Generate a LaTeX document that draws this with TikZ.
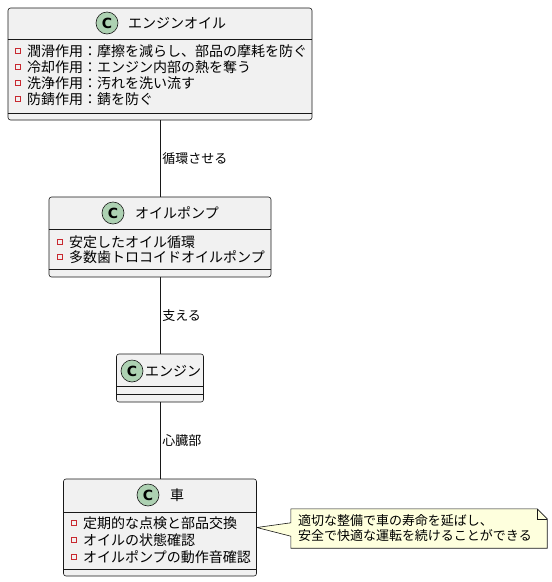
\documentclass[tikz,border=0pt]{standalone}
\usepackage{fontspec}
\setmainfont{Noto Sans CJK JP}
\setsansfont{DejaVu Sans}
\usetikzlibrary{backgrounds}
\definecolor{umlline}{HTML}{181818}
\definecolor{umlbg}{HTML}{F1F1F1}
\definecolor{spotbg}{HTML}{ADD1B2}
\definecolor{attrred}{HTML}{C82930}
\definecolor{notebg}{HTML}{FEFFDD}
\begin{document}
\begin{tikzpicture}[x=1pt, y=-1pt,
    cls/.style = {draw=umlline, fill=umlbg, rounded corners=2.5pt, line width=0.6pt, inner sep=0},
    spot/.style = {circle, draw=umlline, fill=spotbg, minimum size=22pt, inner sep=0, line width=0.6pt, font=\sffamily\bfseries\fontsize{14}{14}\selectfont},
    title/.style = {anchor=west, inner sep=0, font=\fontsize{14}{16}\selectfont},
    icon/.style = {draw=attrred, rectangle, minimum size=5pt, inner sep=0, line width=0.7pt, xshift=-6.5pt},
    attr/.style = {anchor=west, inner sep=0, font=\fontsize{14}{16}\selectfont, label={[icon]left:{}}},
    sep/.style = {draw=umlline, line width=0.6pt},
    link/.style = {draw=umlline, line width=0.7pt},
    lbl/.style = {right, inner sep=2pt, font=\fontsize{13}{15}\selectfont},
    memobox/.style = {fill=notebg, draw=umlline, line width=0.6pt}]
    \useasboundingbox (0,0) rectangle (552,582);

    % classes
    \node[cls, minimum width=304pt, minimum height=112pt] (oil) at (160,64) {};
    \node[cls, minimum width=222pt, minimum height=80pt] (pump) at (160,237) {};
    \node[cls, minimum width=87pt, minimum height=48pt] (engine) at (160,378) {};
    \node[cls, minimum width=193pt, minimum height=97pt] (car) at (160,527.5) {};

    % separators
    \draw[sep] (oil.west |- 0,39) -- (oil.east |- 0,39);
    \draw[sep] (oil.west |- 0,113) -- (oil.east |- 0,113);
    \draw[sep] (pump.west |- 0,229) -- (pump.east |- 0,229);
    \draw[sep] (pump.west |- 0,269) -- (pump.east |- 0,269);
    \draw[sep] (engine.west |- 0,386) -- (engine.east |- 0,386);
    \draw[sep] (engine.west |- 0,394) -- (engine.east |- 0,394);
    \draw[sep] (car.west |- 0,512) -- (car.east |- 0,512);
    \draw[sep] (car.west |- 0,569) -- (car.east |- 0,569);

    % headers
    \node[spot] (oilC) at (107,23) {C};
    \node[title] (oilT) at (128,23) {エンジンオイル};
    \node[spot] (pumpC) at (113,213) {C};
    \node[title] (pumpT) at (135,213) {オイルポンプ};
    \node[spot] (engineC) at (132,371) {C};
    \node[title] (engineT) at (145,371) {エンジン};
    \node[spot] (carC) at (148,495) {C};
    \node[title] (carT) at (170,495) {車};

    % attributes
    \node[attr] (oilA) at (27,51) {潤滑作用：摩擦を減らし、部品の摩耗を防ぐ};
    \node[attr] (oilB) at (27,67) {冷却作用：エンジン内部の熱を奪う};
    \node[attr] (oilC2) at (27,83) {洗浄作用：汚れを洗い流す};
    \node[attr] (oilD) at (27,99) {防錆作用：錆を防ぐ};
    \node[attr] (pumpA) at (69,242) {安定したオイル循環};
    \node[attr] (pumpB) at (69,257) {多数歯トロコイドオイルポンプ};
    \node[attr] (carA) at (83,523) {定期的な点検と部品交換};
    \node[attr] (carB) at (83,540) {オイルの状態確認};
    \node[attr] (carC2) at (83,557) {オイルポンプの動作音確認};

    % links
    \draw[link] (oil) -- (pump) node[lbl, pos=.5] (l1) {循環させる};
    \draw[link] (pump) -- (engine) node[lbl, pos=.5] (l2) {支える};
    \draw[link] (engine) -- (car) node[lbl, pos=.5] (l3) {心臓部};

    % note
    \node[minimum width=256pt, minimum height=39pt, text width=242pt, align=left, inner sep=0,
          font=\fontsize{13}{15}\selectfont] (memo) at (419,528.5)
          {適切な整備で車の寿命を延ばし、\\安全で快適な運転を続けることができる};
    \begin{scope}[on background layer]
    \fill[white] (0,0) rectangle (552,582);
    \path[memobox] (memo.north west) -- ([xshift=-10pt]memo.north east) -- ([yshift=-10pt]memo.north east)
        -- (memo.south east) -- (memo.south west) -- ([yshift=12pt]memo.south west)
        -- (car.east) -- ([yshift=-14pt]memo.north west) -- cycle;
    \draw[sep] ([xshift=-10pt]memo.north east) -- ([xshift=-10pt,yshift=-10pt]memo.north east) -- ([yshift=-10pt]memo.north east);
    \end{scope}
\end{tikzpicture}
\end{document}
